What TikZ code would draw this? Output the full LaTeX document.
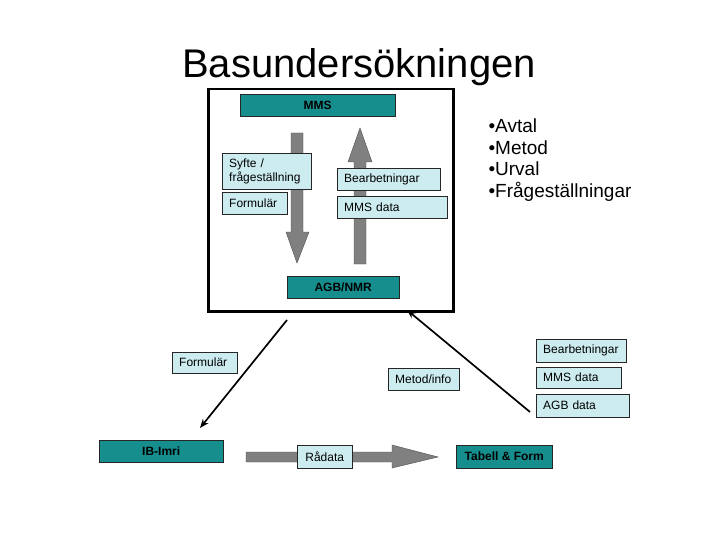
\documentclass[tikz,border=0pt]{standalone}
\usepackage{fontspec}
\setmainfont{Liberation Sans}
\usepackage{tikz}
\usetikzlibrary{arrows.meta}

\definecolor{boxteal}{RGB}{22,142,142}
\definecolor{boxlight}{RGB}{204,236,240}
\definecolor{arrowgray}{RGB}{128,128,128}

\begin{document}
\begin{tikzpicture}[x=1pt, y=-1pt,
		darkbox/.style = {rectangle, draw=black!85, fill=boxteal, anchor=north west, inner sep=0pt, font=\fontsize{12}{14}\selectfont\bfseries},
		lightbox/.style = {rectangle, draw=black!85, fill=boxlight, anchor=north west, inner xsep=7pt, inner ysep=0pt, align=left, font=\fontsize{12}{14}\selectfont},
		blockarrow/.style = {draw=black!70, fill=arrowgray},
		arrow/.style = {draw, -{Stealth[length=9pt, width=7pt]}, line width=1.7pt}
		]
		\useasboundingbox (0,0) rectangle (720,540);
		
		% Title and topics
		\node[font=\fontsize{40}{46}\selectfont] (Title) at (359,67) {Basundersökningen};
		\node[anchor=west, align=left, font=\fontsize{19}{21.5}\selectfont] (Topics) at (485,160) {•Avtal\\•Metod\\•Urval\\•Frågeställningar};
		
		% Frame
		\node[rectangle, draw, line width=2.5pt, anchor=north west, minimum width=245pt, minimum height=222pt] (Frame) at (207,88) {};
		
		% Block arrows
		\draw[blockarrow] (291,133) -- (303,133) -- (303,232) -- (309,232) -- (297,263) -- (286,232) -- (291,232) -- cycle;
		\draw[blockarrow] (354,264) -- (366,264) -- (366,162) -- (372,162) -- (360,128) -- (348,162) -- (354,162) -- cycle;
		\draw[blockarrow] (246,452) -- (392,452) -- (392,445) -- (438,457) -- (392,468) -- (392,462) -- (246,462) -- cycle;
		
		% Boxes inside frame
		\node[darkbox, minimum width=155pt, minimum height=22pt] (MMS) at (240,94) {MMS};
		\node[lightbox, text width=75pt, minimum height=36pt] (Syfte) at (222,153) {Syfte /\\frågeställning};
		\node[lightbox, text width=51pt, minimum height=22pt] (Formular) at (222,192) {Formulär};
		\node[lightbox, text width=89pt, minimum height=22pt] (Bearbetningar) at (337,168) {Bearbetningar};
		\node[lightbox, text width=96pt, minimum height=22pt] (MMSData) at (337,196) {MMS data};
		\node[darkbox, minimum width=112pt, minimum height=22pt] (AGBNMR) at (287,276) {AGB/NMR};
		
		% Boxes below frame
		\node[lightbox, text width=51pt, minimum height=21pt] (FormularLow) at (172,352) {Formulär};
		\node[lightbox, text width=57pt, minimum height=22pt] (MetodInfo) at (388,368) {Metod/info};
		\node[lightbox, text width=76pt, minimum height=23pt] (BearbetningarLow) at (536,339) {Bearbetningar};
		\node[lightbox, text width=71pt, minimum height=21pt] (MMSDataLow) at (536,367) {MMS data};
		\node[lightbox, text width=79pt, minimum height=23pt] (AGBData) at (536,394) {AGB data};
		\node[darkbox, minimum width=124pt, minimum height=22pt] (IBImri) at (99,440) {IB-Imri};
		\node[lightbox, inner xsep=0pt, align=center, text width=55pt, minimum height=23pt] (Radata) at (297,445) {Rådata};
		\node[darkbox, minimum width=96pt, minimum height=23pt] (TabellForm) at (456,445) {Tabell \& Form};
		
		% Arrows
		\coordinate (FrameLeft) at (287,320);
		\coordinate (IBImriTip) at (200,428);
		\coordinate (AGBDataEnd) at (530,412);
		\coordinate (FrameRight) at (407,310);
		\draw[arrow] (FrameLeft) -- (IBImriTip);
		\draw[arrow] (AGBDataEnd) -- (FrameRight);
		
	\end{tikzpicture}
\end{document}
